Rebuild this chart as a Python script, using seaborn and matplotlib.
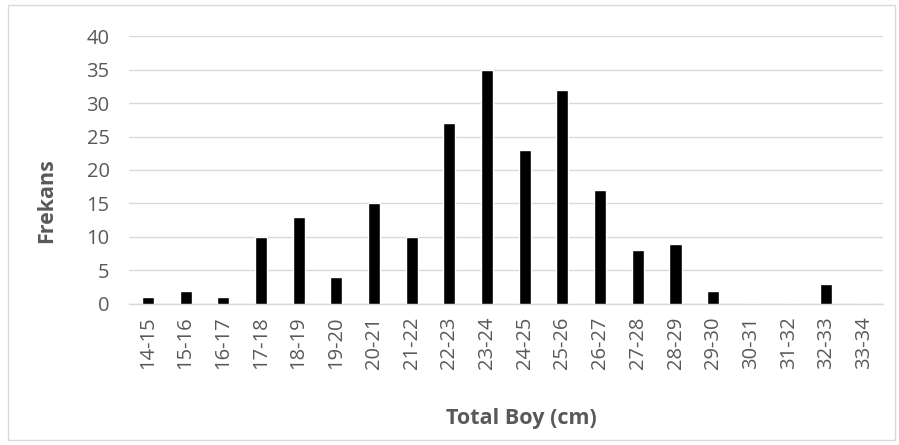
import matplotlib
matplotlib.use("Agg")
import matplotlib.pyplot as plt
import seaborn as sns
import pandas as pd
from matplotlib.patches import Rectangle

# Length classes (cm) and their frequencies
classes = ["14-15", "15-16", "16-17", "17-18", "18-19", "19-20", "20-21", "21-22",
           "22-23", "23-24", "24-25", "25-26", "26-27", "27-28", "28-29", "29-30",
           "30-31", "31-32", "32-33", "33-34"]
counts = [1, 2, 1, 10, 13, 4, 15, 10, 27, 35, 23, 32, 17, 8, 9, 2, 0, 0, 3, 0]
y_ticks = [0, 5, 10, 15, 20, 25, 30, 35, 40]

df = pd.DataFrame({"Sınıf": classes, "Frekans": counts})

sns.set_theme(style="white")
plt.rcParams["font.family"] = ["Open Sans", "DejaVu Sans"]

fig = plt.figure(figsize=(8.99, 4.45), dpi=100)
ax = fig.add_axes([0.1435, 0.317, 0.8385, 0.602])

sns.barplot(data=df, x="Sınıf", y="Frekans", color="black", width=0.32,
            saturation=1, ax=ax, zorder=3)

ax.set_ylim(0, 40)
ax.set_yticks(y_ticks)
ax.set_xlim(-0.5, len(classes) - 0.5)
ax.grid(axis="y", color="#d9d9d9", linewidth=1.0, zorder=0)
for side in ["top", "right", "left"]:
    ax.spines[side].set_visible(False)
ax.spines["bottom"].set_color("#d9d9d9")
ax.spines["bottom"].set_linewidth(1.0)

ax.tick_params(axis="both", length=0, labelsize=14.5, labelcolor="#595959")
ax.tick_params(axis="y", pad=14)
ax.tick_params(axis="x", pad=9)
plt.setp(ax.get_xticklabels(), rotation=90)

ax.set_xlabel("Total Boy (cm)", fontsize=15.5, fontweight="bold", color="#595959", va="center")
ax.set_ylabel("Frekans", fontsize=15.5, fontweight="bold", color="#595959", va="center")
ax.xaxis.set_label_coords(0.52, -0.428)
ax.yaxis.set_label_coords(-0.109, 0.385)

# light frame around the whole chart
fig.patches.append(Rectangle((8 / 899, 5 / 445), 887 / 899, 435 / 445,
                             transform=fig.transFigure, fill=False,
                             edgecolor="#d9d9d9", linewidth=1.0))

fig.savefig("out.png", dpi=100)
